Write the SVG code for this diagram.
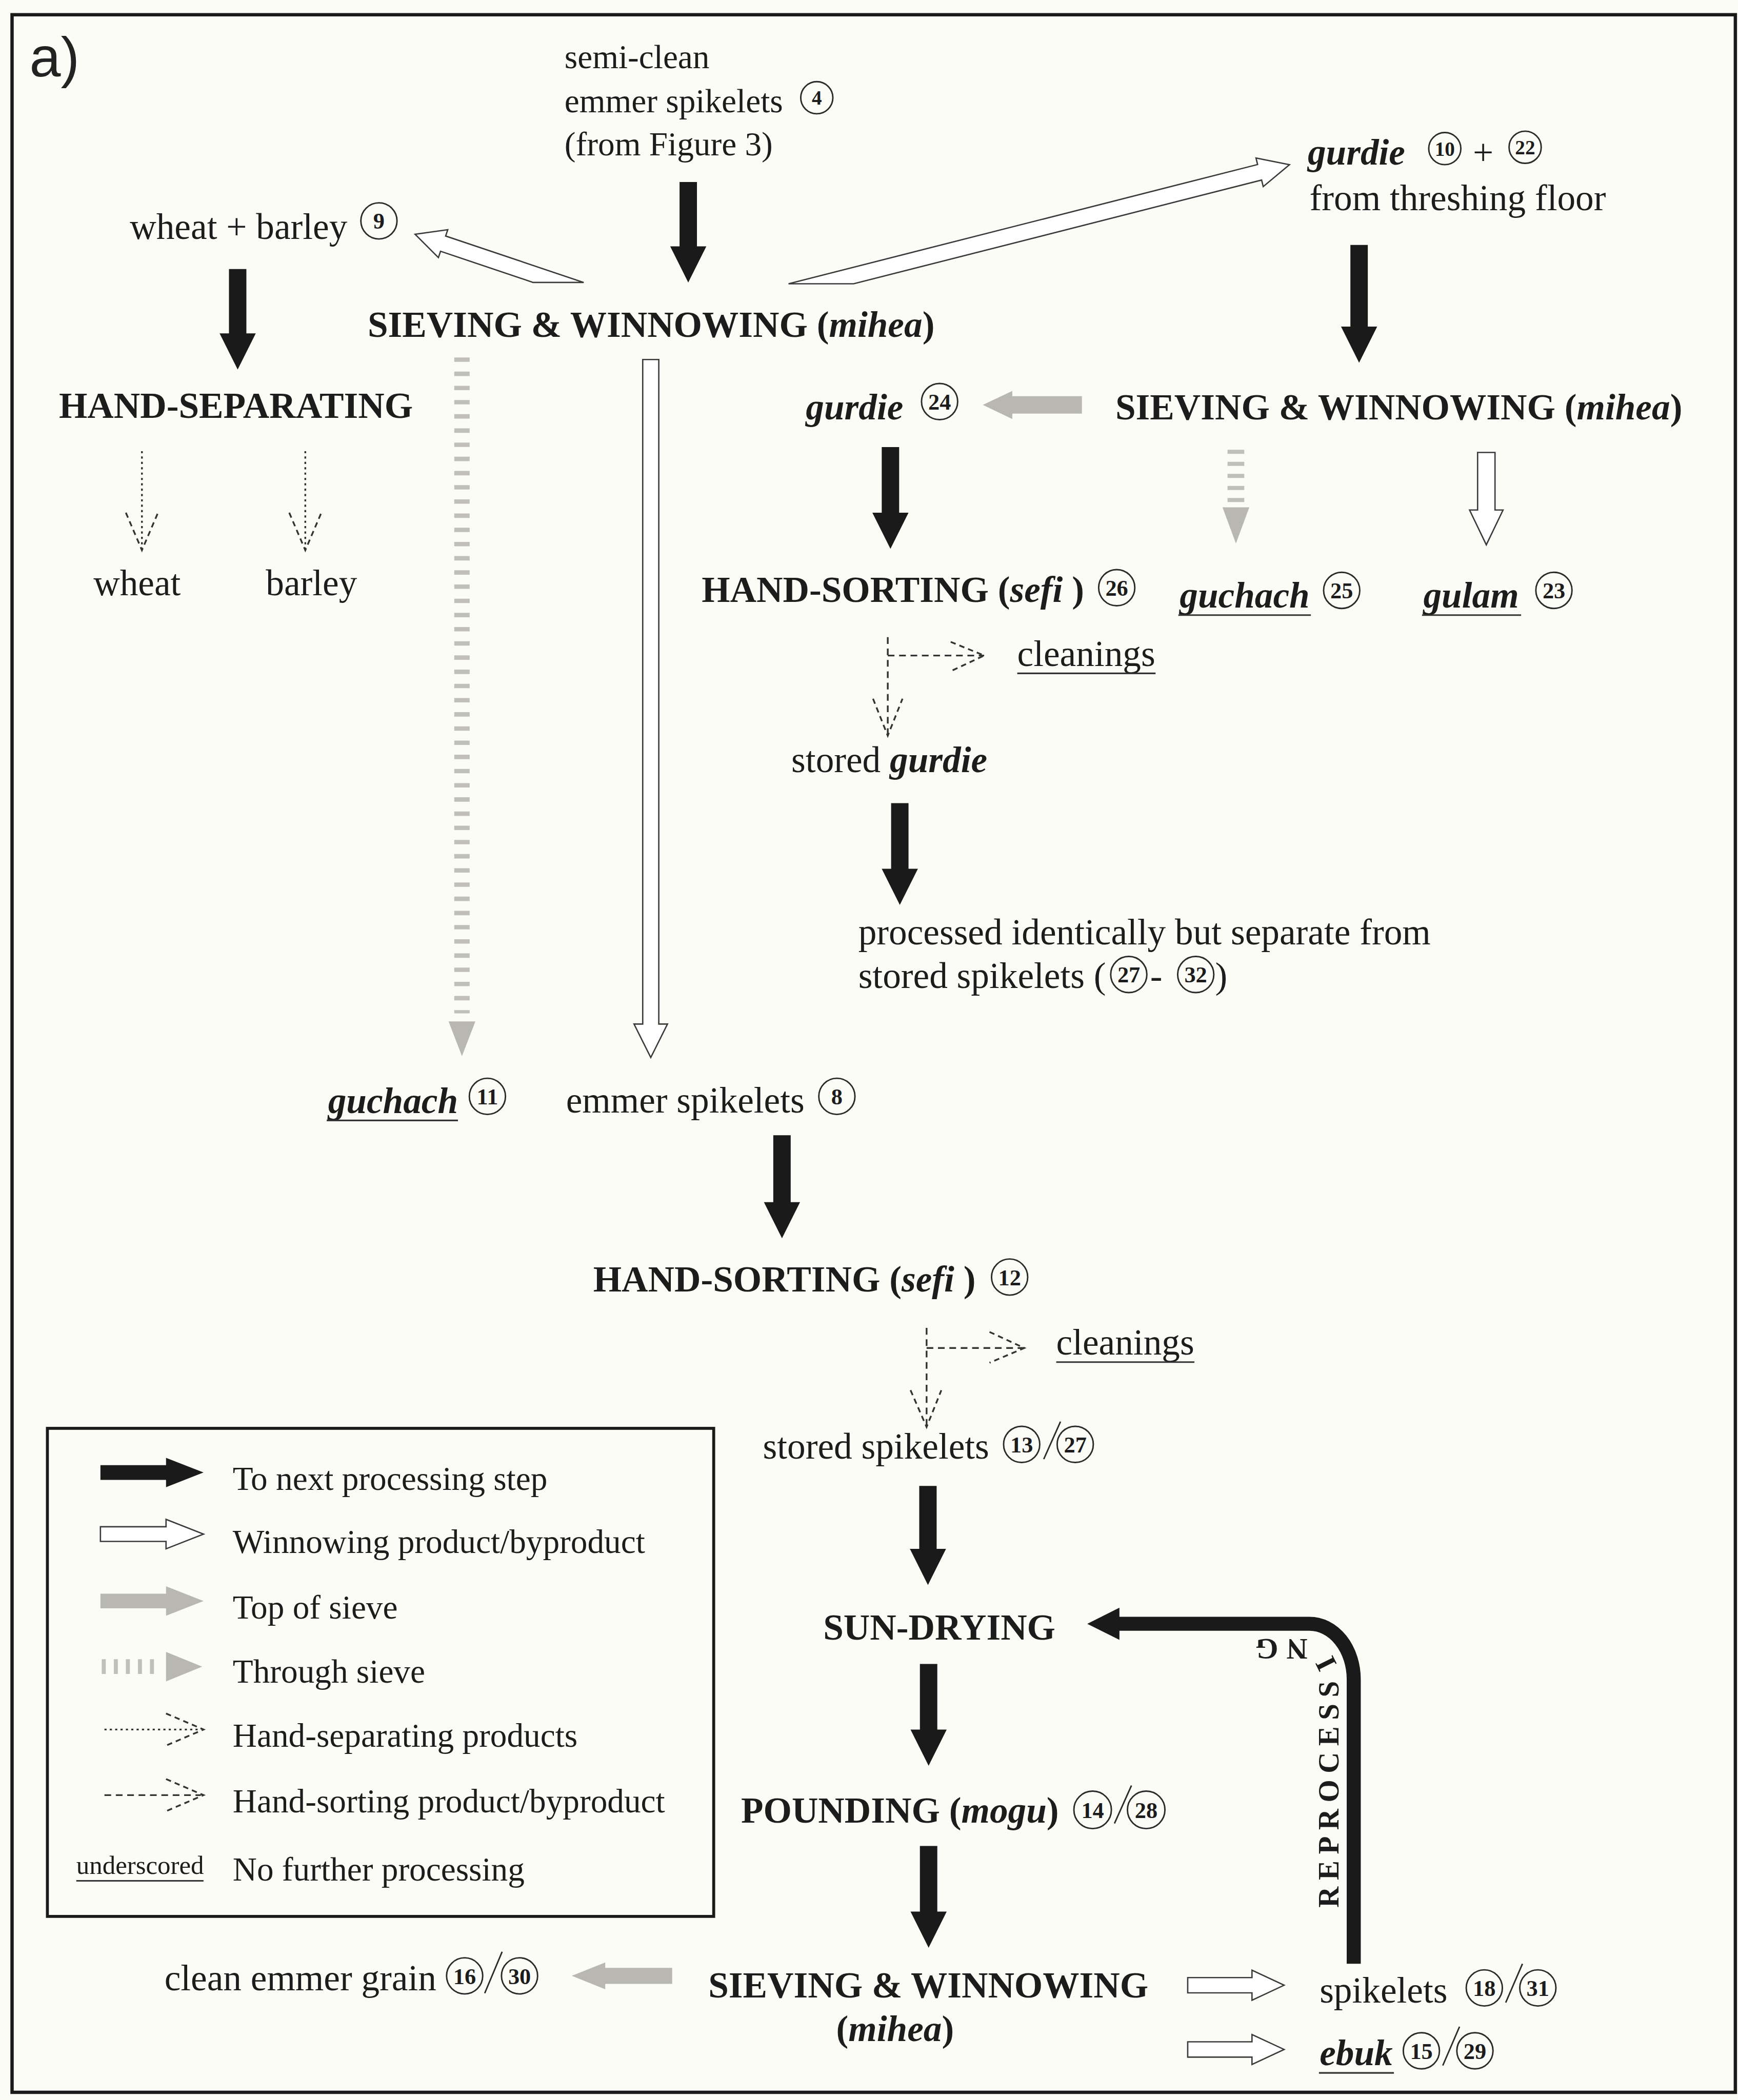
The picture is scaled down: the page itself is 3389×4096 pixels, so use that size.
<svg xmlns="http://www.w3.org/2000/svg" xmlns:xlink="http://www.w3.org/1999/xlink" width="3389" height="4096" viewBox="0 0 3389 4096">
<defs>
<style>
.t{font-family:"Liberation Serif","Times New Roman",serif;font-size:27.3px;fill:#1c1c1c}
.b{font-weight:bold}
.i{font-style:italic}
.note{font-size:25px}
.lg{font-size:25px}
.num{font-family:"Liberation Serif","Times New Roman",serif;font-size:17px;font-weight:bold;text-anchor:middle;fill:#1c1c1c}
.sm{font-size:15px}
.cir{fill:none;stroke:#2a2a2a;stroke-width:1.1}
.sl{stroke:#2a2a2a;stroke-width:1.1}
.blk{fill:#1a1a1a}
.wht{fill:#ffffff;stroke:#3a3a3a;stroke-width:1}
.gry{fill:#b8b8b0}
.tick{stroke:#c0c0b8;fill:none}
.dot{stroke:#333;stroke-width:1.3;stroke-dasharray:1.6 2.4;fill:none}
.dsh{stroke:#333;stroke-width:1.3;stroke-dasharray:5 3.5;fill:none}
.hd{stroke:#333;stroke-width:1.3;stroke-dasharray:4 3;fill:none}
.ul{stroke:#333;stroke-width:1.2}
.rp{font-family:"Liberation Serif","Times New Roman",serif;font-size:21.8px;font-weight:bold;letter-spacing:4.8px;fill:#1c1c1c}
</style>
<path id="rpp" d="M999.5 1430 V1254.5 A21.5 30 0 0 0 978 1224.5 H880"/>
</defs>
<rect x="0" y="0" width="3389" height="4096" fill="#fcfcf7"/>
<g transform="scale(2.611)">
<rect id="frame" x="9" y="11" width="1287" height="1552" fill="none" stroke="#1a1a1a" stroke-width="2.5"/>
<text id="label-a" x="22" y="57" style="font-family:'Liberation Sans',Arial,sans-serif;font-size:42px;fill:#222">a)</text>

<g id="connectors">
  <!-- black: to next processing step -->
  <polygon class="blk" points="507.5,136 520.5,136 520.5,184 527.5,184 514,211 500.5,184 507.5,184"/>
  <polygon class="blk" points="171,201 184,201 184,249 191,249 177.5,276 164,249 171,249"/>
  <polygon class="blk" points="1008.5,183 1021.5,183 1021.5,244 1028.5,244 1015,271 1001.5,244 1008.5,244"/>
  <polygon class="blk" points="658.5,334 671.5,334 671.5,383 678.5,383 665,410 651.5,383 658.5,383"/>
  <polygon class="blk" points="665.5,600 678.5,600 678.5,649 685.5,649 672,676 658.5,649 665.5,649"/>
  <polygon class="blk" points="577.5,848 590.5,848 590.5,898 597.5,898 584,925 570.5,898 577.5,898"/>
  <polygon class="blk" points="686.5,1110 699.5,1110 699.5,1157 706.5,1157 693,1184 679.5,1157 686.5,1157"/>
  <polygon class="blk" points="687,1243 700,1243 700,1292 707,1292 693.5,1319 680,1292 687,1292"/>
  <polygon class="blk" points="687,1379 700,1379 700,1428 707,1428 693.5,1455 680,1428 687,1428"/>
  <!-- reprocessing -->
  <path d="M1011 1467 V1254.5 A33 41.5 0 0 0 978 1213 H834" fill="none" stroke="#1a1a1a" stroke-width="10.5"/>
  <polygon class="blk" points="836,1201 812,1213 836,1225"/>
  <text class="rp"><textPath xlink:href="#rpp" href="#rpp" startOffset="5">REPROCESS<tspan dx="7.4">I</tspan><tspan dx="17.8">N</tspan><tspan dx="1.4">G</tspan></textPath></text>
  <!-- white: winnowing product -->
  <polygon class="wht" points="398.2,211 329,187.7 327.4,192.4 310,175 334.4,171.6 332.8,176.3 435.9,211"/>
  <polygon class="wht" points="588.9,212 939.2,122.9 938,118 963,123 943.4,139.4 942.2,134.5 637.5,212"/>
  <polygon class="wht" points="480,268.6 492,268.6 492,765 498.5,765 486,790 473.5,765 480,765"/>
  <polygon class="wht" points="1103.5,338 1116.5,338 1116.5,381 1122.5,381 1110,407 1097.5,381 1103.5,381"/>
  <polygon class="wht" points="887,1477.3 935,1477.3 935,1471.8 959,1483 935,1494.2 935,1488.7 887,1488.7"/>
  <polygon class="wht" points="887,1525.3 935,1525.3 935,1519.8 959,1531 935,1542.2 935,1536.7 887,1536.7"/>
  <!-- grey: top of sieve -->
  <polygon class="gry" points="808,296 756,296 756,292 734,302.5 756,313 756,309 808,309"/>
  <polygon class="gry" points="502,1470 452,1470 452,1466 427,1476 452,1486 452,1482 502,1482"/>
  <!-- through sieve -->
  <line class="tick" x1="345" y1="267" x2="345" y2="757" stroke-width="11.5" stroke-dasharray="3.3 7.3"/>
  <polygon class="gry" points="335,763 355,763 345,789"/>
  <line class="tick" x1="923" y1="336" x2="923" y2="378" stroke-width="12.5" stroke-dasharray="3 6"/>
  <polygon class="gry" points="913,379 933,379 923,406"/>
  <!-- hand-separating (dotted) -->
  <line class="dot" x1="106" y1="337" x2="106" y2="411"/>
  <polyline class="hd" points="94,383 106,411 118,383"/>
  <line class="dot" x1="228" y1="337" x2="228" y2="411"/>
  <polyline class="hd" points="216,383 228,411 240,383"/>
  <!-- hand-sorting (dashed) upper -->
  <line class="dsh" x1="663" y1="476" x2="663" y2="549"/>
  <polyline class="hd" points="652,522 663,549.6 674,522"/>
  <line class="dsh" x1="663" y1="489.7" x2="735" y2="489.7"/>
  <polyline class="hd" points="710,479.5 735,489.7 710,501.4"/>
  <!-- hand-sorting (dashed) lower -->
  <line class="dsh" x1="692" y1="992" x2="692" y2="1065"/>
  <polyline class="hd" points="680,1038.5 692,1066 703,1038.5"/>
  <line class="dsh" x1="692" y1="1007" x2="765" y2="1007"/>
  <polyline class="hd" points="739,995 765,1007 739,1018"/>
</g>

<g id="n-semiclean">
  <text class="t note" x="421.6" y="51">semi-clean</text>
  <text class="t note" x="421.6" y="84">emmer spikelets</text>
  <text class="t note" x="421.6" y="116">(from Figure 3)</text>
  <circle class="cir" cx="610" cy="73" r="12"/><text class="num sm" x="610" y="78.3">4</text>
</g>
<g id="n-wheatbarley">
  <text class="t" x="97" y="178.5">wheat + barley</text>
  <circle class="cir" cx="283" cy="165" r="13.5"/><text class="num" x="283" y="171">9</text>
</g>
<g id="n-sieving1">
  <text class="t b" x="274.6" y="251.7">SIEVING &amp; WINNOWING (<tspan class="i">mihea</tspan>)</text>
</g>
<g id="n-gurdie-floor">
  <text class="t b i" x="976.6" y="123">gurdie</text>
  <circle class="cir" cx="1079" cy="111" r="12"/><text class="num sm" x="1079" y="116.3">10</text>
  <text class="t" x="1100" y="123">+</text>
  <circle class="cir" cx="1139" cy="110" r="12"/><text class="num sm" x="1139" y="115.3">22</text>
  <text class="t" x="978" y="157">from threshing floor</text>
</g>
<g id="n-handsep">
  <text class="t b" x="44" y="312">HAND-SEPARATING</text>
</g>
<g id="n-wheat"><text class="t" x="69.8" y="444.7">wheat</text></g>
<g id="n-barley"><text class="t" x="198.5" y="444.7">barley</text></g>
<g id="n-sieving2">
  <text class="t b" x="833" y="313.4">SIEVING &amp; WINNOWING (<tspan class="i">mihea</tspan>)</text>
</g>
<g id="n-gurdie24">
  <text class="t b i" x="601.8" y="313.4">gurdie</text>
  <circle class="cir" cx="701.7" cy="300" r="13.5"/><text class="num" x="701.7" y="306">24</text>
</g>
<g id="n-handsort26">
  <text class="t b" x="524" y="449.5">HAND-SORTING (<tspan class="i">sefi</tspan> )</text>
  <circle class="cir" cx="834" cy="439" r="13.5"/><text class="num" x="834" y="445">26</text>
</g>
<g id="n-guchach25">
  <text class="t b i" x="881" y="453.8">guchach</text>
  <line class="ul" x1="880" y1="459.5" x2="979" y2="459.5"/>
  <circle class="cir" cx="1002" cy="441" r="13.5"/><text class="num" x="1002" y="447">25</text>
</g>
<g id="n-gulam">
  <text class="t b i" x="1063" y="453.8">gulam</text>
  <line class="ul" x1="1062" y1="459.5" x2="1136" y2="459.5"/>
  <circle class="cir" cx="1160.5" cy="441" r="13.5"/><text class="num" x="1160.5" y="447">23</text>
</g>
<g id="n-cleanings1">
  <text class="t" x="759.7" y="497.6">cleanings</text>
  <line class="ul" x1="759.7" y1="503" x2="863" y2="503"/>
</g>
<g id="n-storedgurdie">
  <text class="t" x="591" y="576.8">stored <tspan class="b i">gurdie</tspan></text>
</g>
<g id="n-processed">
  <text class="t" x="641" y="705.5">processed identically but separate from</text>
  <text class="t" x="641" y="738">stored spikelets (</text>
  <circle class="cir" cx="843" cy="728" r="13.5"/><text class="num" x="843" y="734">27</text>
  <text class="t" x="859" y="738">-</text>
  <circle class="cir" cx="893" cy="728" r="13.5"/><text class="num" x="893" y="734">32</text>
  <text class="t" x="907.5" y="738">)</text>
</g>
<g id="n-guchach11">
  <text class="t b i" x="245" y="831.4">guchach</text>
  <line class="ul" x1="244" y1="837" x2="342" y2="837"/>
  <circle class="cir" cx="364" cy="819" r="13.5"/><text class="num" x="364" y="825">11</text>
</g>
<g id="n-emmer8">
  <text class="t" x="422.7" y="831">emmer spikelets</text>
  <circle class="cir" cx="625" cy="819" r="13.5"/><text class="num" x="625" y="825">8</text>
</g>
<g id="n-handsort12">
  <text class="t b" x="443" y="964.6">HAND-SORTING (<tspan class="i">sefi</tspan> )</text>
  <circle class="cir" cx="754" cy="954" r="13.5"/><text class="num" x="754" y="960">12</text>
</g>
<g id="n-cleanings2">
  <text class="t" x="788.8" y="1012">cleanings</text>
  <line class="ul" x1="788.8" y1="1017.5" x2="892" y2="1017.5"/>
</g>
<g id="n-storedspikelets">
  <text class="t" x="569.7" y="1089.7">stored spikelets</text>
  <circle class="cir" cx="763" cy="1079" r="13.5"/><text class="num" x="763" y="1085">13</text>
  <line class="sl" x1="779.5" y1="1090" x2="792" y2="1062"/>
  <circle class="cir" cx="803" cy="1079" r="13.5"/><text class="num" x="803" y="1085">27</text>
</g>
<g id="n-sundrying">
  <text class="t b" x="614.8" y="1225">SUN-DRYING</text>
</g>
<g id="n-pounding">
  <text class="t b" x="553.4" y="1361.7">POUNDING (<tspan class="i">mogu</tspan>)</text>
  <circle class="cir" cx="816" cy="1352" r="14"/><text class="num" x="816" y="1358">14</text>
  <line class="sl" x1="832.3" y1="1362.2" x2="845" y2="1333.8"/>
  <circle class="cir" cx="856" cy="1352" r="14"/><text class="num" x="856" y="1358">28</text>
</g>
<g id="n-sieving3">
  <text class="t b" x="529" y="1492">SIEVING &amp; WINNOWING</text>
  <text class="t b" x="624.5" y="1524.8">(<tspan class="i">mihea</tspan>)</text>
</g>
<g id="n-cleangrain">
  <text class="t" x="122.8" y="1486.8">clean emmer grain</text>
  <circle class="cir" cx="347" cy="1476" r="13.5"/><text class="num" x="347" y="1482">16</text>
  <line class="sl" x1="362" y1="1489" x2="375" y2="1458"/>
  <circle class="cir" cx="388" cy="1476" r="13.5"/><text class="num" x="388" y="1482">30</text>
</g>
<g id="n-spikelets18">
  <text class="t" x="985.5" y="1495.8">spikelets</text>
  <circle class="cir" cx="1108.5" cy="1485" r="13.5"/><text class="num" x="1108.5" y="1491">18</text>
  <line class="sl" x1="1124.5" y1="1496" x2="1137" y2="1467"/>
  <circle class="cir" cx="1148.5" cy="1485" r="13.5"/><text class="num" x="1148.5" y="1491">31</text>
</g>
<g id="n-ebuk">
  <text class="t b i" x="985.5" y="1542.7">ebuk</text>
  <line class="ul" x1="985" y1="1548.5" x2="1041" y2="1548.5"/>
  <circle class="cir" cx="1061.5" cy="1532" r="13.5"/><text class="num" x="1061.5" y="1538">15</text>
  <line class="sl" x1="1077.5" y1="1543" x2="1090" y2="1514"/>
  <circle class="cir" cx="1101.5" cy="1532" r="13.5"/><text class="num" x="1101.5" y="1538">29</text>
</g>

<g id="legend">
  <rect x="35.4" y="1067" width="497.6" height="364.6" fill="none" stroke="#1a1a1a" stroke-width="2.2"/>
  <polygon class="blk" points="75,1094.5 124,1094.5 124,1089 152,1100 124,1111 124,1105.5 75,1105.5"/>
  <text class="t lg" x="173.8" y="1113">To next processing step</text>
  <polygon class="wht" points="75,1140.5 124,1140.5 124,1135 152,1146 124,1157 124,1151.5 75,1151.5"/>
  <text class="t lg" x="173.8" y="1160">Winnowing product/byproduct</text>
  <polygon class="gry" points="75,1190.5 124,1190.5 124,1185 152,1196 124,1207 124,1201.5 75,1201.5"/>
  <text class="t lg" x="173.8" y="1209">Top of sieve</text>
  <line class="tick" x1="76" y1="1245" x2="121" y2="1245" stroke-width="11" stroke-dasharray="3 6"/>
  <polygon class="gry" points="124,1234 124,1256 151,1245"/>
  <text class="t lg" x="173.8" y="1257">Through sieve</text>
  <line class="dot" x1="78" y1="1292" x2="150" y2="1292"/>
  <polyline class="hd" points="124,1280 152,1292 124,1304"/>
  <text class="t lg" x="173.8" y="1305">Hand-separating products</text>
  <line class="dsh" x1="78" y1="1341" x2="150" y2="1341"/>
  <polyline class="hd" points="124,1329 152,1341 124,1353"/>
  <text class="t lg" x="173.8" y="1354">Hand-sorting product/byproduct</text>
  <text class="t" x="57" y="1400" style="font-size:19.5px">underscored</text>
  <line class="ul" x1="57" y1="1405" x2="152" y2="1405"/>
  <text class="t lg" x="173.8" y="1405">No further processing</text>
</g>
</g>
</svg>
